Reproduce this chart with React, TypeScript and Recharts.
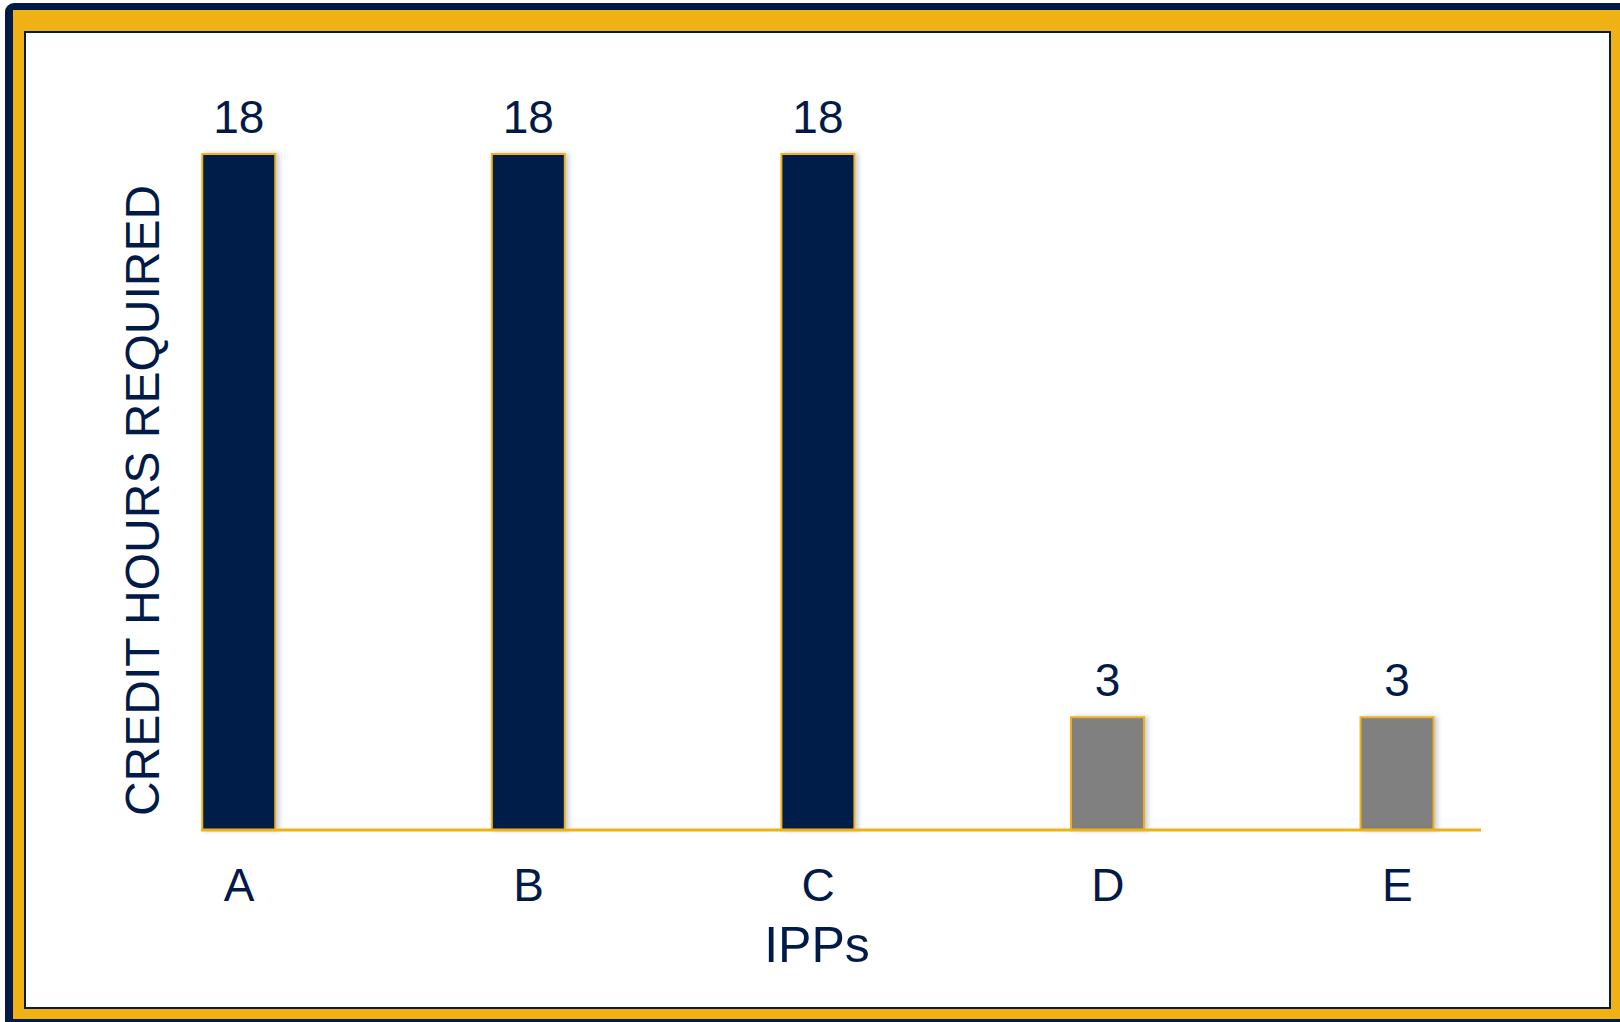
import React from 'react';
import { BarChart, Bar, XAxis, YAxis, Cell, LabelList } from 'recharts';

const categories = ['A', 'B', 'C', 'D', 'E'];
const creditHours = [18, 18, 18, 3, 3];
const yAxisTitle = 'CREDIT HOURS REQUIRED';
const xAxisTitle = 'IPPs';

const data = categories.map((c, i) => ({ name: c, value: creditHours[i] }));

const NAVY = '#021A48';
const GOLD = '#EFB114';
const GRAY = '#808080';
const FONT = '"Liberation Sans", Arial, Helvetica, sans-serif';
const barFill = [NAVY, NAVY, NAVY, GRAY, GRAY];

const YTitle = (props: any) => {
  const vb = props.viewBox;
  const x = vb.x + vb.width / 2 + 8;
  const y = vb.y + vb.height / 2 + 46;
  return (
    <text
      x={x}
      y={y}
      transform={`rotate(-90, ${x}, ${y})`}
      textAnchor="middle"
      fill={NAVY}
      fontSize={48}
      fontFamily={FONT}
    >
      {yAxisTitle}
    </text>
  );
};

const XTitle = (props: any) => {
  const vb = props.viewBox;
  const x = vb.x + vb.width / 2 - 24;
  const y = vb.y + 132;
  return (
    <text x={x} y={y} textAnchor="middle" fill={NAVY} fontSize={50} fontFamily={FONT}>
      {xAxisTitle}
    </text>
  );
};

export default function App() {
  return (
    <div
      style={{
        position: 'fixed',
        left: 0,
        top: 0,
        width: 1620,
        height: 1022,
        overflow: 'hidden',
        background: '#ffffff',
        fontFamily: FONT,
      }}
    >
      <svg width={0} height={0} style={{ position: 'absolute' }}>
        <defs>
          <filter id="barShadow" x="-20%" y="-5%" width="140%" height="110%">
            <feDropShadow dx={3} dy={0} stdDeviation={2.5} floodColor="#8090a8" floodOpacity={0.45} />
          </filter>
        </defs>
      </svg>
      <div
        style={{
          position: 'absolute',
          left: 5,
          top: 3,
          width: 1700,
          height: 1100,
          background: NAVY,
          borderRadius: 9,
        }}
      />
      <div
        style={{
          position: 'absolute',
          left: 13,
          top: 10,
          width: 1700,
          height: 1009,
          background: GOLD,
        }}
      />
      <div
        style={{
          position: 'absolute',
          left: 24,
          top: 31,
          width: 1583,
          height: 974,
          background: '#ffffff',
          border: `2px solid ${NAVY}`,
        }}
      />
      <div style={{ position: 'absolute', left: 0, top: 0 }}>
        <BarChart
          width={1620}
          height={1022}
          data={data}
          margin={{ top: 79, right: 139, bottom: 92, left: 101 }}
          barSize={73}
        >
          <XAxis
            dataKey="name"
            padding={{ left: -106.75, right: -61.15 }}
            axisLine={{ stroke: GOLD, strokeWidth: 3 }}
            tickLine={false}
            tickSize={0}
            tickMargin={38}
            height={100}
            tick={{ fill: NAVY, fontSize: 46, fontFamily: FONT }}
            interval={0}
            label={{ content: XTitle }}
          />
          <YAxis
            domain={[0, 20]}
            width={100}
            axisLine={false}
            tickLine={false}
            tick={false}
            label={{ content: YTitle }}
          />
          <Bar
            dataKey="value"
            isAnimationActive={false}
            stroke={GOLD}
            strokeWidth={2}
            filter="url(#barShadow)"
          >
            {data.map((d, i) => (
              <Cell key={d.name} fill={barFill[i]} />
            ))}
            <LabelList
              dataKey="value"
              position="top"
              offset={21}
              fill={NAVY}
              fontSize={46}
              fontFamily={FONT}
            />
          </Bar>
        </BarChart>
      </div>
    </div>
  );
}
